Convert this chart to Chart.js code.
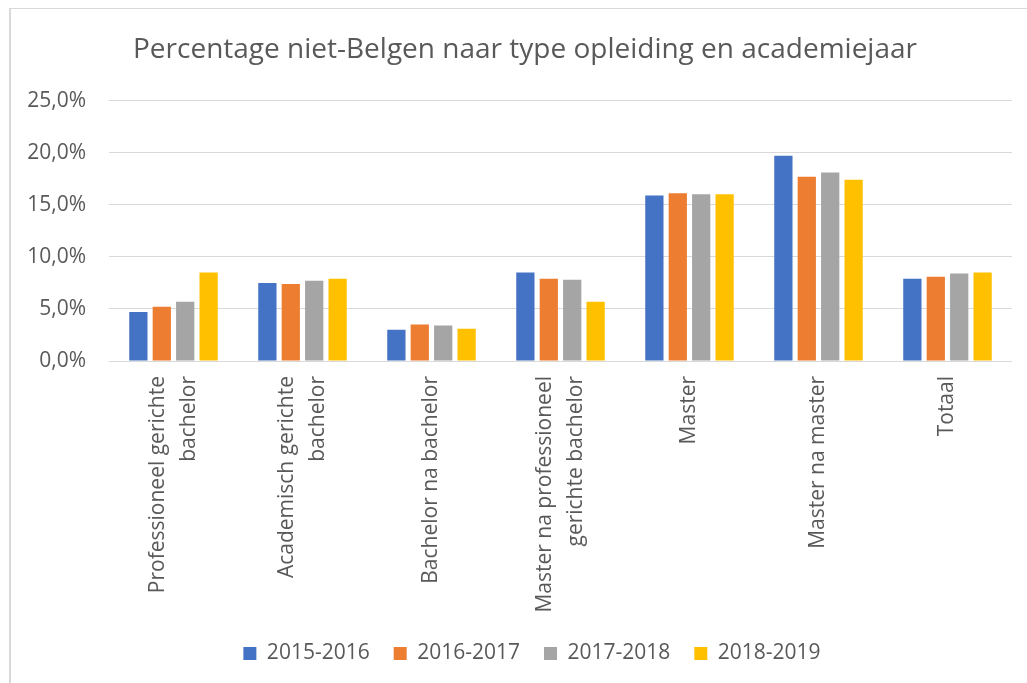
<!DOCTYPE html>
<html>
<head>
<meta charset="utf-8">
<script src="https://cdn.jsdelivr.net/npm/chart.js@4.4.1/dist/chart.umd.min.js"></script>
<style>
  html, body { margin: 0; padding: 0; background: #fff; }
  #wrap { position: relative; width: 1027px; height: 683px; }
  #frame { position: absolute; left: 9px; top: 8px; right: 0; bottom: 0;
           border-left: 2px solid #d9d9d9; border-top: 1px solid #d9d9d9; }
  canvas { position: absolute; left: 0; top: 0; }
</style>
</head>
<body>
<div id="wrap">
  <div id="frame"></div>
  <canvas id="chart" width="1027" height="683"></canvas>
</div>
<script>
  "use strict";

  // Category labels, already split into the lines the reference wraps them to.
  var categories = [
    ["Professioneel gerichte", "bachelor"],
    ["Academisch gerichte", "bachelor"],
    ["Bachelor na bachelor"],
    ["Master na professioneel", "gerichte bachelor"],
    ["Master"],
    ["Master na master"],
    ["Totaal"]
  ];
  var years = ["2015-2016", "2016-2017", "2017-2018", "2018-2019"];

  // percentage non-Belgians, per category
  var pct2015 = [4.7, 7.5, 3.0, 8.5, 15.9, 19.7, 7.9];
  var pct2016 = [5.2, 7.4, 3.5, 7.9, 16.1, 17.7, 8.1];
  var pct2017 = [5.7, 7.7, 3.4, 7.8, 16.0, 18.1, 8.4];
  var pct2018 = [8.5, 7.9, 3.1, 5.7, 16.0, 17.4, 8.5];

  var yTicks = { min: 0, max: 25, step: 5 };

  var COLORS = ["#4472c4", "#ed7d31", "#a5a5a5", "#ffc000"];
  var TEXT = "#595959";
  var GRID = "#d9d9d9";
  var FONT = "'Open Sans', 'DejaVu Sans', sans-serif";
  var LABEL_LINE = 31;

  Chart.defaults.font.family = FONT;
  Chart.defaults.color = TEXT;

  // Excel centres a wrapped, rotated label on its tick; Chart.js puts the first
  // line on the tick. So the x labels are drawn here from the category scale.
  var categoryLabelsPlugin = {
    id: "categoryLabels",
    afterDraw: function (chart) {
      var xs = chart.scales.x;
      var c = chart.ctx;
      c.save();
      c.fillStyle = TEXT;
      c.font = "21px " + FONT;
      c.textAlign = "right";
      c.textBaseline = "middle";
      categories.forEach(function (lines, i) {
        c.save();
        c.translate(xs.getPixelForValue(i), xs.top + 15);
        c.rotate(-Math.PI / 2);
        lines.forEach(function (line, j) {
          c.fillText(line, 0, (j - (lines.length - 1) / 2) * LABEL_LINE);
        });
        c.restore();
      });
      c.restore();
    }
  };

  // Title and legend sit a little right of where Chart.js centres them
  // (it centres on the full width, Excel on the frame); nudge after layout.
  var nudgeBoxesPlugin = {
    id: "nudgeBoxes",
    afterLayout: function (chart) {
      [[chart.titleBlock, 19], [chart.legend, 26]].forEach(function (b) {
        if (!b[0]) return;
        b[0].left += b[1];
        b[0].right += b[1];
      });
    }
  };

  var series = [pct2015, pct2016, pct2017, pct2018];
  var datasets = series.map(function (values, i) {
    return {
      label: years[i],
      data: values,
      backgroundColor: COLORS[i],
      categoryPercentage: 0.726,
      barPercentage: 0.78
    };
  });

  new Chart(document.getElementById("chart").getContext("2d"), {
    type: "bar",
    plugins: [categoryLabelsPlugin, nudgeBoxesPlugin],
    data: {
      labels: categories.map(function (l) { return l.join(" "); }),
      datasets: datasets
    },
    options: {
      responsive: false,
      animation: false,
      layout: { padding: { left: 0, right: 15, top: 0, bottom: 9 } },
      plugins: {
        title: {
          display: true,
          text: "Percentage niet-Belgen naar type opleiding en academiejaar",
          color: TEXT,
          font: { size: 28, weight: "normal" },
          padding: { top: 33, bottom: 34 }
        },
        legend: {
          position: "bottom",
          labels: {
            color: TEXT,
            font: { size: 21 },
            boxWidth: 13,
            boxHeight: 13,
            padding: 24
          }
        },
        tooltip: { enabled: false }
      },
      scales: {
        x: {
          ticks: { display: false },
          grid: { display: false },
          border: { display: false },
          afterFit: function (s) { s.height = 258; }
        },
        y: {
          min: yTicks.min,
          max: yTicks.max,
          ticks: {
            stepSize: yTicks.step,
            padding: 23,
            color: TEXT,
            font: { size: 21 },
            callback: function (v) { return v.toFixed(1).replace(".", ",") + "%"; }
          },
          grid: { color: GRID, lineWidth: 1, drawTicks: false },
          border: { display: false },
          afterFit: function (s) { s.width = 109; }
        }
      }
    }
  });
</script>
</body>
</html>
